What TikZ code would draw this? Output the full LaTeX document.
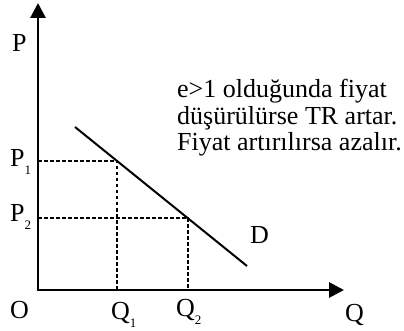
\documentclass[tikz,border=0pt]{standalone}
\usepackage{fontspec}
\setmainfont{Liberation Serif}
\usetikzlibrary{arrows.meta}
\newcommand{\lowsub}[1]{\raisebox{-8pt}{\fontsize{13}{13}\selectfont #1}}
\begin{document}
\begin{tikzpicture}[x=1pt,y=-1pt,
  axis/.style={line width=2.8pt,-{Triangle[length=15pt,width=15pt]}},
  curve/.style={line width=2pt},
  guide/.style={line width=2pt,dash pattern=on 3.5pt off 2.5pt},
  big/.style={font=\fontsize{26}{26}\selectfont,inner sep=0pt,anchor=base west}]
\useasboundingbox (0,0) rectangle (404,331);
\coordinate (O) at (38,290);
\coordinate (Ytop) at (38,3);
\coordinate (Xend) at (344,290);
\coordinate (D1) at (75,127);
\coordinate (D2) at (247,266);
\coordinate (A) at (117,161);
\coordinate (B) at (188,218);
\coordinate (A0) at (38,161);
\coordinate (B0) at (38,218);
\coordinate (Aq) at (117,290);
\coordinate (Bq) at (188,290);
\draw[guide] (A0) -- (A) -- (Aq);
\draw[guide] (B0) -- (B) -- (Bq);
\draw[curve] (D1) -- (D2);
\draw[axis] (O) -- (Ytop);
\draw[axis] ([xshift=-1.4pt]O) -- (Xend);
\node[big] (lP) at (12,52) {P};
\node[big] (lO) at (10,318) {O};
\node[big] (lQ) at (345,321) {Q};
\node[big] (lD) at (250,243) {D};
\node[big] (lP1) at (10,167) {P\lowsub{1}};
\node[big] (lP2) at (10,222) {P\lowsub{2}};
\node[big] (lQ1) at (111,319) {Q\lowsub{1}};
\node[big] (lQ2) at (176,316) {Q\lowsub{2}};
\node[big] (t1) at (177,98) {e>1 olduğunda fiyat};
\node[big] (t2) at (177,124.5) {düşürülürse TR artar.};
\node[big] (t3) at (177,151) {Fiyat artırılırsa azalır.};
\end{tikzpicture}
\end{document}
